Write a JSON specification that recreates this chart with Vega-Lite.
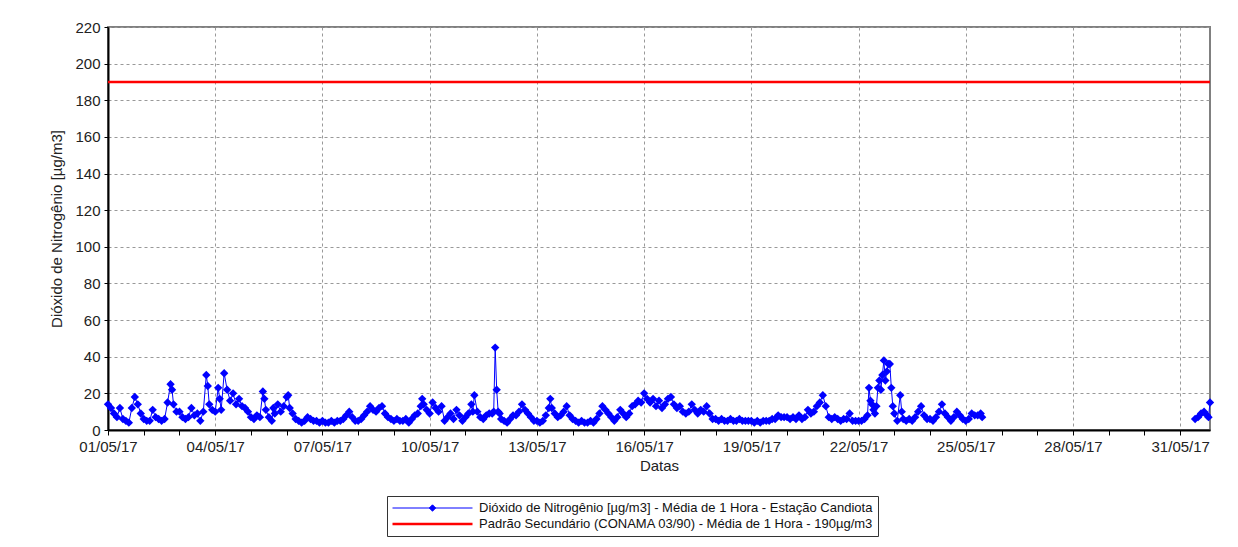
{
  "$schema": "https://vega.github.io/schema/vega-lite/v6.json",
  "width": 1102,
  "height": 403,
  "autosize": "none",
  "padding": {"left": 108, "top": 27, "right": 28, "bottom": 117},
  "background": "white",
  "config": {
    "font": "Liberation Sans",
    "view": {"stroke": "#808080", "strokeWidth": 2},
    "axis": {
      "domainColor": "#000000",
      "domainWidth": 2,
      "tickColor": "#000000",
      "labelColor": "#222222",
      "labelFont": "Liberation Sans",
      "labelFontSize": 15,
      "titleFont": "Liberation Sans",
      "titleFontSize": 15,
      "titleFontWeight": "normal",
      "titleColor": "#222222",
      "gridColor": "#999999",
      "gridDash": [3, 3],
      "gridWidth": 1
    }
  },
  "datasets": {
    "no2": [
      {"t":"2017-05-01T00:00","v":14},{"t":"2017-05-01T02:00","v":12},{"t":"2017-05-01T04:00","v":9},{"t":"2017-05-01T06:00","v":7},{"t":"2017-05-01T08:00","v":12},{"t":"2017-05-01T10:00","v":6},{"t":"2017-05-01T12:00","v":5},{"t":"2017-05-01T14:00","v":4},{"t":"2017-05-01T16:00","v":12},{"t":"2017-05-01T18:00","v":18},{"t":"2017-05-01T20:00","v":14},{"t":"2017-05-01T22:00","v":9},
      {"t":"2017-05-02T00:00","v":6},{"t":"2017-05-02T02:00","v":5},{"t":"2017-05-02T04:00","v":5},{"t":"2017-05-02T06:00","v":11},{"t":"2017-05-02T08:00","v":7},{"t":"2017-05-02T10:00","v":6},{"t":"2017-05-02T12:00","v":5},{"t":"2017-05-02T14:00","v":6},{"t":"2017-05-02T16:00","v":15},{"t":"2017-05-02T18:00","v":25},{"t":"2017-05-02T19:00","v":22},{"t":"2017-05-02T20:00","v":14},{"t":"2017-05-02T22:00","v":10},
      {"t":"2017-05-03T00:00","v":10},{"t":"2017-05-03T02:00","v":7},{"t":"2017-05-03T04:00","v":6},{"t":"2017-05-03T06:00","v":7},{"t":"2017-05-03T08:00","v":12},{"t":"2017-05-03T10:00","v":8},{"t":"2017-05-03T12:00","v":9},{"t":"2017-05-03T14:00","v":5},{"t":"2017-05-03T16:00","v":10},{"t":"2017-05-03T18:00","v":30},{"t":"2017-05-03T19:00","v":24},{"t":"2017-05-03T20:00","v":14},{"t":"2017-05-03T22:00","v":11},
      {"t":"2017-05-04T00:00","v":10},{"t":"2017-05-04T02:00","v":23},{"t":"2017-05-04T03:00","v":17},{"t":"2017-05-04T04:00","v":11},{"t":"2017-05-04T06:00","v":31},{"t":"2017-05-04T08:00","v":22},{"t":"2017-05-04T10:00","v":16},{"t":"2017-05-04T12:00","v":20},{"t":"2017-05-04T14:00","v":14},{"t":"2017-05-04T16:00","v":17},{"t":"2017-05-04T18:00","v":13},{"t":"2017-05-04T20:00","v":12},{"t":"2017-05-04T22:00","v":10},
      {"t":"2017-05-05T00:00","v":7},{"t":"2017-05-05T02:00","v":6},{"t":"2017-05-05T04:00","v":8},{"t":"2017-05-05T06:00","v":7},{"t":"2017-05-05T08:00","v":21},{"t":"2017-05-05T09:00","v":17},{"t":"2017-05-05T10:00","v":11},{"t":"2017-05-05T12:00","v":7},{"t":"2017-05-05T14:00","v":5},{"t":"2017-05-05T15:00","v":12},{"t":"2017-05-05T16:00","v":9},{"t":"2017-05-05T18:00","v":14},{"t":"2017-05-05T20:00","v":10},{"t":"2017-05-05T22:00","v":13},
      {"t":"2017-05-06T00:00","v":18},{"t":"2017-05-06T01:00","v":19},{"t":"2017-05-06T02:00","v":12},{"t":"2017-05-06T04:00","v":9},{"t":"2017-05-06T06:00","v":6},{"t":"2017-05-06T08:00","v":5},{"t":"2017-05-06T10:00","v":4},{"t":"2017-05-06T12:00","v":5},{"t":"2017-05-06T14:00","v":7},{"t":"2017-05-06T16:00","v":6},{"t":"2017-05-06T18:00","v":5},{"t":"2017-05-06T20:00","v":5},{"t":"2017-05-06T22:00","v":4},
      {"t":"2017-05-07T00:00","v":5},{"t":"2017-05-07T02:00","v":4},{"t":"2017-05-07T04:00","v":4},{"t":"2017-05-07T06:00","v":5},{"t":"2017-05-07T08:00","v":4},{"t":"2017-05-07T10:00","v":5},{"t":"2017-05-07T12:00","v":5},{"t":"2017-05-07T14:00","v":6},{"t":"2017-05-07T16:00","v":8},{"t":"2017-05-07T18:00","v":10},{"t":"2017-05-07T20:00","v":7},{"t":"2017-05-07T22:00","v":5},
      {"t":"2017-05-08T00:00","v":5},{"t":"2017-05-08T02:00","v":6},{"t":"2017-05-08T04:00","v":8},{"t":"2017-05-08T06:00","v":10},{"t":"2017-05-08T08:00","v":13},{"t":"2017-05-08T10:00","v":11},{"t":"2017-05-08T12:00","v":10},{"t":"2017-05-08T14:00","v":12},{"t":"2017-05-08T16:00","v":13},{"t":"2017-05-08T18:00","v":9},{"t":"2017-05-08T20:00","v":7},{"t":"2017-05-08T22:00","v":6},
      {"t":"2017-05-09T00:00","v":5},{"t":"2017-05-09T02:00","v":6},{"t":"2017-05-09T04:00","v":5},{"t":"2017-05-09T06:00","v":5},{"t":"2017-05-09T08:00","v":6},{"t":"2017-05-09T10:00","v":4},{"t":"2017-05-09T12:00","v":6},{"t":"2017-05-09T14:00","v":8},{"t":"2017-05-09T16:00","v":9},{"t":"2017-05-09T18:00","v":13},{"t":"2017-05-09T19:00","v":17},{"t":"2017-05-09T20:00","v":14},{"t":"2017-05-09T22:00","v":11},
      {"t":"2017-05-10T00:00","v":9},{"t":"2017-05-10T02:00","v":15},{"t":"2017-05-10T04:00","v":12},{"t":"2017-05-10T06:00","v":10},{"t":"2017-05-10T08:00","v":13},{"t":"2017-05-10T10:00","v":5},{"t":"2017-05-10T12:00","v":7},{"t":"2017-05-10T14:00","v":9},{"t":"2017-05-10T16:00","v":6},{"t":"2017-05-10T18:00","v":11},{"t":"2017-05-10T20:00","v":8},{"t":"2017-05-10T22:00","v":5},
      {"t":"2017-05-11T00:00","v":7},{"t":"2017-05-11T02:00","v":9},{"t":"2017-05-11T04:00","v":14},{"t":"2017-05-11T05:00","v":10},{"t":"2017-05-11T06:00","v":19},{"t":"2017-05-11T08:00","v":10},{"t":"2017-05-11T10:00","v":7},{"t":"2017-05-11T12:00","v":6},{"t":"2017-05-11T14:00","v":8},{"t":"2017-05-11T16:00","v":9},{"t":"2017-05-11T18:00","v":9},{"t":"2017-05-11T19:00","v":10},{"t":"2017-05-11T20:00","v":45},{"t":"2017-05-11T21:00","v":22},{"t":"2017-05-11T22:00","v":10},{"t":"2017-05-11T23:00","v":9},
      {"t":"2017-05-12T00:00","v":6},{"t":"2017-05-12T02:00","v":5},{"t":"2017-05-12T04:00","v":4},{"t":"2017-05-12T06:00","v":6},{"t":"2017-05-12T08:00","v":8},{"t":"2017-05-12T10:00","v":8},{"t":"2017-05-12T12:00","v":10},{"t":"2017-05-12T14:00","v":14},{"t":"2017-05-12T16:00","v":11},{"t":"2017-05-12T18:00","v":9},{"t":"2017-05-12T20:00","v":7},{"t":"2017-05-12T22:00","v":5},
      {"t":"2017-05-13T00:00","v":5},{"t":"2017-05-13T02:00","v":4},{"t":"2017-05-13T04:00","v":5},{"t":"2017-05-13T06:00","v":8},{"t":"2017-05-13T08:00","v":12},{"t":"2017-05-13T09:00","v":17},{"t":"2017-05-13T10:00","v":12},{"t":"2017-05-13T12:00","v":9},{"t":"2017-05-13T14:00","v":7},{"t":"2017-05-13T16:00","v":8},{"t":"2017-05-13T18:00","v":10},{"t":"2017-05-13T20:00","v":13},{"t":"2017-05-13T22:00","v":8},
      {"t":"2017-05-14T00:00","v":6},{"t":"2017-05-14T02:00","v":5},{"t":"2017-05-14T04:00","v":4},{"t":"2017-05-14T06:00","v":5},{"t":"2017-05-14T08:00","v":4},{"t":"2017-05-14T10:00","v":4},{"t":"2017-05-14T12:00","v":5},{"t":"2017-05-14T14:00","v":4},{"t":"2017-05-14T16:00","v":6},{"t":"2017-05-14T18:00","v":9},{"t":"2017-05-14T20:00","v":13},{"t":"2017-05-14T22:00","v":11},
      {"t":"2017-05-15T00:00","v":9},{"t":"2017-05-15T02:00","v":7},{"t":"2017-05-15T04:00","v":5},{"t":"2017-05-15T06:00","v":7},{"t":"2017-05-15T08:00","v":11},{"t":"2017-05-15T10:00","v":9},{"t":"2017-05-15T12:00","v":7},{"t":"2017-05-15T14:00","v":9},{"t":"2017-05-15T16:00","v":13},{"t":"2017-05-15T18:00","v":14},{"t":"2017-05-15T20:00","v":16},{"t":"2017-05-15T22:00","v":15},
      {"t":"2017-05-16T00:00","v":20},{"t":"2017-05-16T02:00","v":17},{"t":"2017-05-16T04:00","v":15},{"t":"2017-05-16T06:00","v":17},{"t":"2017-05-16T08:00","v":13},{"t":"2017-05-16T10:00","v":16},{"t":"2017-05-16T12:00","v":12},{"t":"2017-05-16T14:00","v":14},{"t":"2017-05-16T16:00","v":17},{"t":"2017-05-16T18:00","v":18},{"t":"2017-05-16T20:00","v":14},{"t":"2017-05-16T22:00","v":12},
      {"t":"2017-05-17T00:00","v":13},{"t":"2017-05-17T02:00","v":10},{"t":"2017-05-17T04:00","v":9},{"t":"2017-05-17T06:00","v":10},{"t":"2017-05-17T08:00","v":14},{"t":"2017-05-17T10:00","v":11},{"t":"2017-05-17T12:00","v":9},{"t":"2017-05-17T14:00","v":11},{"t":"2017-05-17T16:00","v":10},{"t":"2017-05-17T18:00","v":13},{"t":"2017-05-17T20:00","v":9},{"t":"2017-05-17T22:00","v":6},
      {"t":"2017-05-18T00:00","v":6},{"t":"2017-05-18T02:00","v":5},{"t":"2017-05-18T04:00","v":6},{"t":"2017-05-18T06:00","v":5},{"t":"2017-05-18T08:00","v":5},{"t":"2017-05-18T10:00","v":6},{"t":"2017-05-18T12:00","v":5},{"t":"2017-05-18T14:00","v":5},{"t":"2017-05-18T16:00","v":6},{"t":"2017-05-18T18:00","v":5},{"t":"2017-05-18T20:00","v":5},{"t":"2017-05-18T22:00","v":5},
      {"t":"2017-05-19T00:00","v":5},{"t":"2017-05-19T02:00","v":4},{"t":"2017-05-19T04:00","v":5},{"t":"2017-05-19T06:00","v":4},{"t":"2017-05-19T08:00","v":5},{"t":"2017-05-19T10:00","v":5},{"t":"2017-05-19T12:00","v":5},{"t":"2017-05-19T14:00","v":6},{"t":"2017-05-19T16:00","v":6},{"t":"2017-05-19T18:00","v":8},{"t":"2017-05-19T20:00","v":7},{"t":"2017-05-19T22:00","v":7},
      {"t":"2017-05-20T00:00","v":7},{"t":"2017-05-20T02:00","v":6},{"t":"2017-05-20T04:00","v":7},{"t":"2017-05-20T06:00","v":6},{"t":"2017-05-20T08:00","v":8},{"t":"2017-05-20T10:00","v":6},{"t":"2017-05-20T12:00","v":7},{"t":"2017-05-20T14:00","v":11},{"t":"2017-05-20T16:00","v":9},{"t":"2017-05-20T18:00","v":10},{"t":"2017-05-20T20:00","v":13},{"t":"2017-05-20T22:00","v":15},
      {"t":"2017-05-21T00:00","v":19},{"t":"2017-05-21T02:00","v":13},{"t":"2017-05-21T04:00","v":7},{"t":"2017-05-21T06:00","v":6},{"t":"2017-05-21T08:00","v":7},{"t":"2017-05-21T10:00","v":6},{"t":"2017-05-21T12:00","v":5},{"t":"2017-05-21T14:00","v":6},{"t":"2017-05-21T16:00","v":6},{"t":"2017-05-21T18:00","v":9},{"t":"2017-05-21T20:00","v":5},{"t":"2017-05-21T22:00","v":5},
      {"t":"2017-05-22T00:00","v":5},{"t":"2017-05-22T02:00","v":5},{"t":"2017-05-22T04:00","v":6},{"t":"2017-05-22T06:00","v":8},{"t":"2017-05-22T07:00","v":23},{"t":"2017-05-22T08:00","v":16},{"t":"2017-05-22T09:00","v":14},{"t":"2017-05-22T10:00","v":11},{"t":"2017-05-22T11:00","v":9},{"t":"2017-05-22T12:00","v":13},{"t":"2017-05-22T13:00","v":23},{"t":"2017-05-22T14:00","v":27},{"t":"2017-05-22T15:00","v":22},{"t":"2017-05-22T16:00","v":30},{"t":"2017-05-22T17:00","v":38},{"t":"2017-05-22T18:00","v":27},{"t":"2017-05-22T19:00","v":32},{"t":"2017-05-22T20:00","v":36},{"t":"2017-05-22T21:00","v":36},{"t":"2017-05-22T22:00","v":23},{"t":"2017-05-22T23:00","v":13},
      {"t":"2017-05-23T00:00","v":9},{"t":"2017-05-23T02:00","v":5},{"t":"2017-05-23T04:00","v":19},{"t":"2017-05-23T05:00","v":10},{"t":"2017-05-23T06:00","v":6},{"t":"2017-05-23T08:00","v":5},{"t":"2017-05-23T10:00","v":6},{"t":"2017-05-23T12:00","v":5},{"t":"2017-05-23T14:00","v":7},{"t":"2017-05-23T16:00","v":10},{"t":"2017-05-23T18:00","v":13},{"t":"2017-05-23T20:00","v":8},{"t":"2017-05-23T22:00","v":6},
      {"t":"2017-05-24T00:00","v":6},{"t":"2017-05-24T02:00","v":5},{"t":"2017-05-24T04:00","v":7},{"t":"2017-05-24T06:00","v":10},{"t":"2017-05-24T08:00","v":14},{"t":"2017-05-24T10:00","v":9},{"t":"2017-05-24T12:00","v":7},{"t":"2017-05-24T14:00","v":5},{"t":"2017-05-24T16:00","v":7},{"t":"2017-05-24T18:00","v":10},{"t":"2017-05-24T20:00","v":8},{"t":"2017-05-24T22:00","v":6},
      {"t":"2017-05-25T00:00","v":5},{"t":"2017-05-25T02:00","v":6},{"t":"2017-05-25T04:00","v":9},{"t":"2017-05-25T06:00","v":8},{"t":"2017-05-25T08:00","v":8},{"t":"2017-05-25T10:00","v":9},{"t":"2017-05-25T11:00","v":7},
      {"t":"2017-05-28T00:00","v":null},
      {"t":"2017-05-31T10:00","v":6},{"t":"2017-05-31T12:00","v":7},{"t":"2017-05-31T14:00","v":9},{"t":"2017-05-31T16:00","v":10},{"t":"2017-05-31T18:00","v":8},{"t":"2017-05-31T19:00","v":7},{"t":"2017-05-31T20:00","v":15}
    ]
  },
  "layer": [
    {
      "data": {"name": "no2"},
      "mark": {"type": "line"},
      "encoding": {
        "x": {
          "field": "t", "type": "temporal",
          "scale": {"domain": [{"year": 2017, "month": 5, "date": 1}, {"year": 2017, "month": 5, "date": 31, "hours": 20}], "nice": false},
          "axis": {
            "title": "Datas",
            "tickCount": {"interval": "day", "step": 1},
            "labelExpr": "(date(datum.value)-1)%3===0 ? timeFormat(datum.value,'%d/%m/%y') : ''",
            "labelOverlap": false,
            "labelFlush": false,
            "labelPadding": 4,
            "titlePadding": 4,
            "tickSize": 5,
            "grid": true,
            "gridOpacity": {"condition": {"test": "(date(datum.value)-1)%3===0", "value": 1}, "value": 0}
          }
        },
        "y": {
          "field": "v", "type": "quantitative",
          "scale": {"domain": [0, 220], "nice": false},
          "axis": {
            "title": "Dióxido de Nitrogênio [µg/m3]",
            "values": [0, 20, 40, 60, 80, 100, 120, 140, 160, 180, 200, 220],
            "tickCount": 24,
            "labelOverlap": false,
            "tickSize": 4,
            "labelPadding": 4,
            "titlePadding": 10,
            "grid": true
          }
        },
        "color": {
          "datum": "Dióxido de Nitrogênio [µg/m3] - Média de 1 Hora - Estação Candiota",
          "scale": {
            "domain": ["Dióxido de Nitrogênio [µg/m3] - Média de 1 Hora - Estação Candiota", "Padrão Secundário (CONAMA 03/90) - Média de 1 Hora - 190µg/m3"],
            "range": ["#0000ff", "#ff0000"]
          },
          "legend": {
            "title": null,
            "orient": "none",
            "legendX": 279,
            "legendY": 469,
            "direction": "vertical",
            "strokeColor": "#333333",
            "fillColor": "white",
            "padding": 4,
            "rowPadding": 0,
            "labelFont": "Liberation Sans",
            "labelFontSize": 13,
            "labelColor": "#111111",
            "labelLimit": 0,
            "labelOffset": 5,
            "symbolType": "M-1,0L1,0M0,-0.08L0.08,0L0,0.08L-0.08,0Z",
            "symbolSize": 6400,
            "clipHeight": 16,
            "encode": {
              "symbols": {
                "update": {
                  "shape": {"signal": "datum.index === 0 ? 'M-1,0L1,0M0,-0.08L0.08,0L0,0.08L-0.08,0Z' : 'M-1,0L1,0'"}
                }
              }
            }
          }
        },
        "strokeWidth": {
          "datum": "Dióxido de Nitrogênio [µg/m3] - Média de 1 Hora - Estação Candiota",
          "scale": {
            "domain": ["Dióxido de Nitrogênio [µg/m3] - Média de 1 Hora - Estação Candiota", "Padrão Secundário (CONAMA 03/90) - Média de 1 Hora - 190µg/m3"],
            "range": [1, 2.5]
          },
          "legend": {
            "title": null,
            "orient": "none",
            "legendX": 279,
            "legendY": 469,
            "direction": "vertical",
            "strokeColor": "#333333",
            "fillColor": "white",
            "padding": 4,
            "rowPadding": 0,
            "labelFont": "Liberation Sans",
            "labelFontSize": 13,
            "labelColor": "#111111",
            "labelLimit": 0,
            "labelOffset": 5,
            "symbolType": "M-1,0L1,0M0,-0.08L0.08,0L0,0.08L-0.08,0Z",
            "symbolSize": 6400,
            "clipHeight": 16,
            "encode": {
              "symbols": {
                "update": {
                  "shape": {"signal": "datum.index === 0 ? 'M-1,0L1,0M0,-0.08L0.08,0L0,0.08L-0.08,0Z' : 'M-1,0L1,0'"}
                }
              }
            }
          }
        }
      }
    },
    {
      "data": {"name": "no2"},
      "mark": {"type": "point", "shape": "diamond", "filled": true, "size": 70, "opacity": 1},
      "encoding": {
        "x": {"field": "t", "type": "temporal"},
        "y": {
          "field": "v", "type": "quantitative",
          "axis": {
            "title": "Dióxido de Nitrogênio [µg/m3]",
            "values": [0, 20, 40, 60, 80, 100, 120, 140, 160, 180, 200, 220],
            "tickCount": 24,
            "labelOverlap": false,
            "tickSize": 4,
            "labelPadding": 4,
            "titlePadding": 10,
            "grid": true
          }
        },
        "color": {"datum": "Dióxido de Nitrogênio [µg/m3] - Média de 1 Hora - Estação Candiota"}
      }
    },
    {
      "data": {"values": [{"padrao": 190}]},
      "mark": {"type": "rule"},
      "encoding": {
        "y": {
          "field": "padrao", "type": "quantitative",
          "axis": {
            "title": "Dióxido de Nitrogênio [µg/m3]",
            "values": [0, 20, 40, 60, 80, 100, 120, 140, 160, 180, 200, 220],
            "tickCount": 24,
            "labelOverlap": false,
            "tickSize": 4,
            "labelPadding": 4,
            "titlePadding": 10,
            "grid": true
          }
        },
        "color": {"datum": "Padrão Secundário (CONAMA 03/90) - Média de 1 Hora - 190µg/m3"},
        "strokeWidth": {"datum": "Padrão Secundário (CONAMA 03/90) - Média de 1 Hora - 190µg/m3"}
      }
    }
  ]
}
